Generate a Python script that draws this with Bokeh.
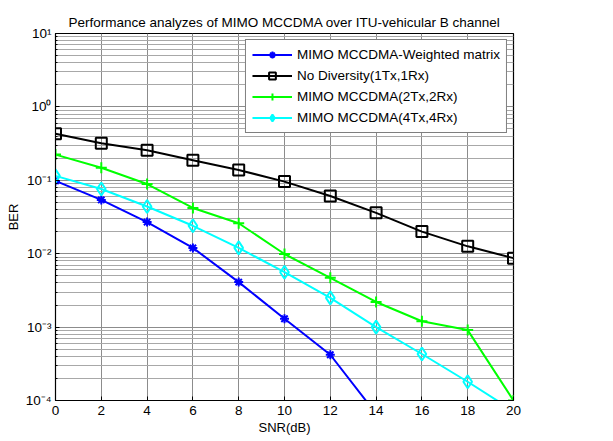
from bokeh.plotting import figure
from bokeh.models import FixedTicker, CustomJSTickFormatter
from bokeh.embed import file_html
from bokeh.resources import INLINE

snr = [0, 2, 4, 6, 8, 10, 12, 14, 16, 18, 20]
snr_weighted = [0, 2, 4, 6, 8, 10, 12, 14]
ber_weighted = [0.098, 0.054, 0.027, 0.012, 0.0041, 0.0013, 0.00042, 0.000066]
ber_nodiv = [0.43, 0.32, 0.257, 0.188, 0.138, 0.096, 0.061, 0.036, 0.020, 0.0126, 0.0087]
ber_2x2 = [0.224, 0.148, 0.089, 0.042, 0.026, 0.0099, 0.0047, 0.0022, 0.0012, 0.00091, 0.0001]
ber_4x4 = [0.115, 0.076, 0.044, 0.024, 0.012, 0.0056, 0.0025, 0.001, 0.00043, 0.00018, 0.000072]

labels = ["MIMO MCCDMA-Weighted matrix", "No Diversity(1Tx,1Rx)",
          "MIMO MCCDMA(2Tx,2Rx)", "MIMO MCCDMA(4Tx,4Rx)"]
x_ticks = list(range(0, 21, 2))
y_major = [1e-4, 1e-3, 1e-2, 1e-1, 1e0, 1e1]

FONT = "Liberation Sans"

p = figure(width=597, height=437, x_range=(0, 20), y_range=(1e-4, 10),
           y_axis_type="log", output_backend="svg", toolbar_location=None,
           title="Performance analyzes of MIMO MCCDMA over ITU-vehicular B channel",
           min_border_left=55, min_border_right=84, min_border_top=33, min_border_bottom=34)

p.title.align = "center"
p.title.text_font = FONT
p.title.text_font_size = "13.5px"
p.title.text_font_style = "normal"
p.title.text_color = "black"
p.title.offset = 0
p.title.standoff = 8

p.outline_line_color = "black"
p.outline_line_width = 1.2

minor = []
for e in range(-4, 1):
    for m in range(2, 10):
        minor.append(m * 10.0 ** e)

p.xaxis.ticker = FixedTicker(ticks=x_ticks, minor_ticks=[])
p.yaxis.ticker = FixedTicker(ticks=y_major, minor_ticks=minor)
p.yaxis.formatter = CustomJSTickFormatter(code="""
const e = Math.round(Math.log10(tick));
const sup = {'0':'\u2070','1':'\u00b9','2':'\u00b2','3':'\u00b3','4':'\u2074','-':'\u207b'};
return '10' + String(e).split('').map(c => sup[c]).join('');
""")

for ax in (p.xaxis[0], p.yaxis[0]):
    ax.axis_line_color = "black"
    ax.major_tick_in = 4
    ax.major_tick_out = 0
    ax.minor_tick_in = 2
    ax.minor_tick_out = 0
    ax.major_label_text_font = FONT
    ax.major_label_text_font_size = "13.5px"
    ax.major_label_text_color = "black"
    ax.axis_label_text_font = FONT
    ax.axis_label_text_font_size = "13px"
    ax.axis_label_text_font_style = "normal"
    ax.axis_label_text_color = "black"
    ax.axis_label_standoff = 2

p.xaxis.major_label_standoff = 5
p.yaxis.major_label_standoff = 4

p.xaxis.axis_label = "SNR(dB)"
p.yaxis.axis_label = "BER"

p.xgrid.grid_line_color = "#8c8c8c"
p.ygrid.grid_line_color = "#8c8c8c"
p.ygrid.minor_grid_line_color = "#a8a8a8"
p.xgrid.grid_line_width = 1
p.ygrid.grid_line_width = 1

lw = 2
p.line(snr_weighted, ber_weighted, color="#0000ff", line_width=lw, legend_label=labels[0])
p.scatter(snr_weighted, ber_weighted, marker="asterisk", size=9, line_color="#0000ff",
          line_width=2, legend_label=labels[0])

p.line(snr, ber_nodiv, color="black", line_width=lw, legend_label=labels[1])
p.scatter(snr, ber_nodiv, marker="square", size=11, line_color="black", fill_color=None,
          line_width=2, legend_label=labels[1])

p.line(snr, ber_2x2, color="#00ff00", line_width=lw, legend_label=labels[2])
p.scatter(snr, ber_2x2, marker="cross", size=11, line_color="#00ff00",
          line_width=2, legend_label=labels[2])

p.line(snr, ber_4x4, color="#00ffff", line_width=lw, legend_label=labels[3])
p.scatter(snr, ber_4x4, marker="diamond", size=13, line_color="#00ffff", fill_color=None,
          line_width=2, legend_label=labels[3])

lg = p.legend[0]
lg.location = "top_right"
lg.border_line_color = "black"
lg.border_line_width = 1.5
lg.background_fill_color = "white"
lg.background_fill_alpha = 1
lg.label_text_font = FONT
lg.label_text_font_size = "13.5px"
lg.label_text_color = "black"
lg.glyph_width = 40
lg.glyph_height = 17
lg.label_height = 17
lg.spacing = 4
lg.padding = 6
lg.margin = 6
lg.label_standoff = 5

open("out.html", "w").write(file_html(p, INLINE))
